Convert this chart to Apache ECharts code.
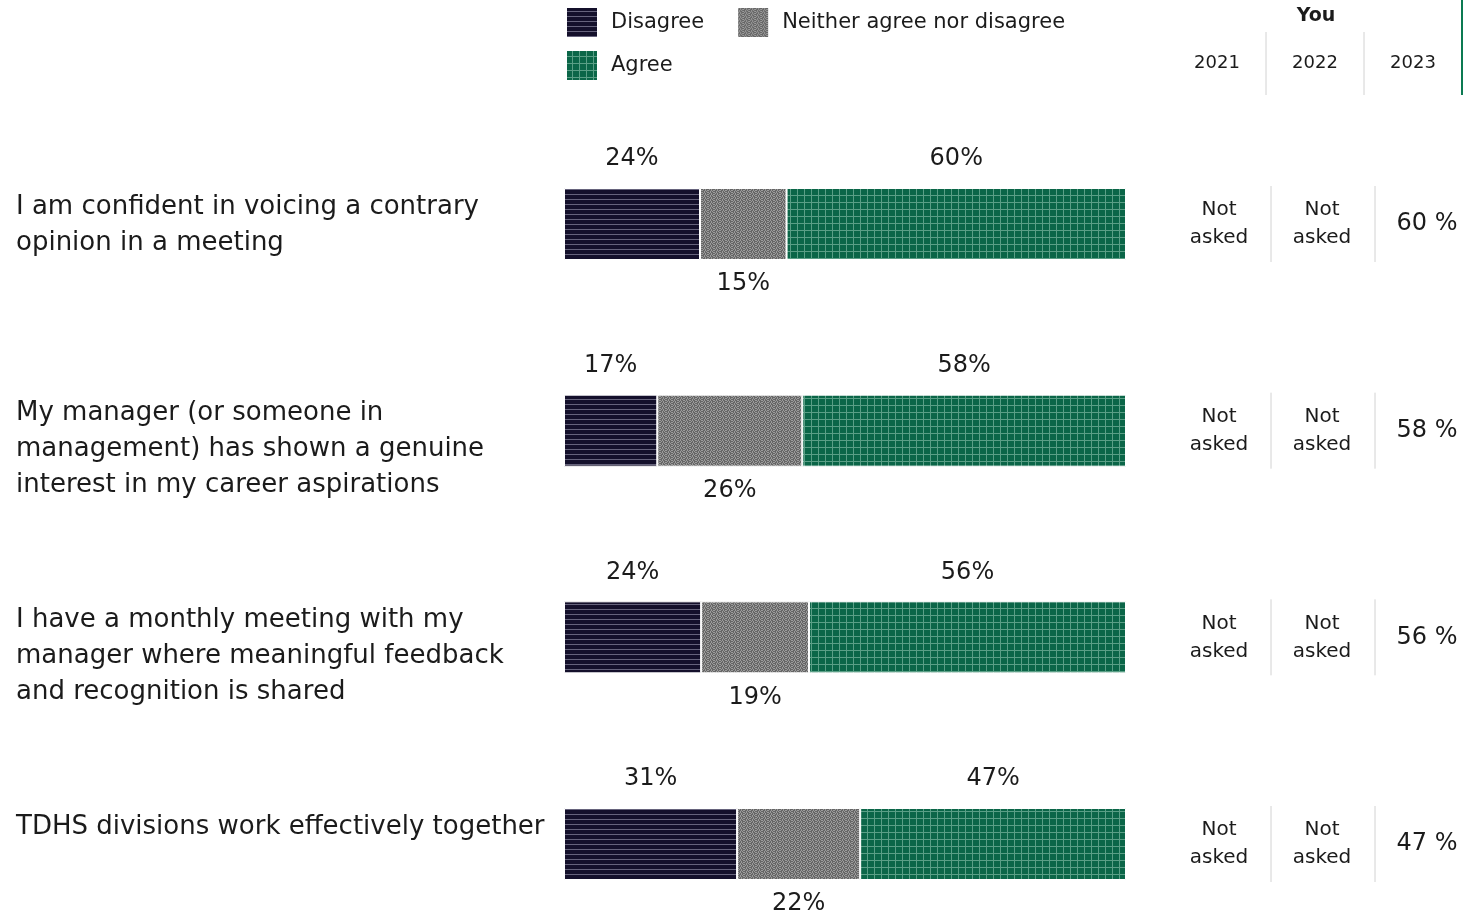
<!DOCTYPE html>
<html><head><meta charset="utf-8">
<script src="https://cdn.jsdelivr.net/npm/echarts@6/dist/echarts.min.js"></script>
<style>html,body{margin:0;padding:0;background:#fff}#c{width:1466px;height:917px}</style>
</head><body><div id="c"></div>
<script>
const categories = [
  'I am confident in voicing a contrary\nopinion in a meeting',
  'My manager (or someone in\nmanagement) has shown a genuine\ninterest in my career aspirations',
  'I have a monthly meeting with my\nmanager where meaningful feedback\nand recognition is shared',
  'TDHS divisions work effectively together'
];
const seriesNames = ['Disagree', 'Neither agree nor disagree', 'Agree'];
const disagree = [24.2, 16.6, 24.4, 30.8];
const neutral = [15.4, 25.8, 19.2, 21.9];
const agree = [60.4, 57.6, 56.4, 47.3];
const years = ['2021', '2022', '2023'];
const headerTitle = 'You';
const result2021 = ['Not\nasked', 'Not\nasked', 'Not\nasked', 'Not\nasked'];
const result2022 = ['Not\nasked', 'Not\nasked', 'Not\nasked', 'Not\nasked'];
const result2023 = [60, 58, 56, 47];

const FONT = '"DejaVu Sans"';
const TXT = '#1b1b1b';

function pattern(kind) {
  const c = document.createElement('canvas');
  const g = c.getContext('2d');
  if (kind === 'disagree') {
    c.width = 8; c.height = 5;
    g.fillStyle = '#14102b'; g.fillRect(0, 0, 8, 5);
    g.fillStyle = '#66637c'; g.fillRect(0, 4, 8, 1);
  } else if (kind === 'neutral') {
    c.width = 6; c.height = 4;
    const rows = ['LDLDDL', 'DLDLDD', 'LDDLDL', 'DDLDLD'];
    rows.forEach((r, y) => { for (let x = 0; x < 6; x++) { g.fillStyle = r[x] === 'L' ? '#9c9c9c' : '#666666'; g.fillRect(x, y, 1, 1); } });
  } else {
    c.width = 7; c.height = 7;
    g.fillStyle = '#0b6648'; g.fillRect(0, 0, 7, 7);
    g.fillStyle = '#5a9f86'; g.fillRect(6, 0, 1, 7); g.fillRect(0, 6, 7, 1);
  }
  return { image: c, repeat: 'repeat' };
}

const colors = [pattern('disagree'), pattern('neutral'), pattern('agree')];
const values = [disagree, neutral, agree];

const chart = echarts.init(document.getElementById('c'), null, { renderer: 'canvas' });

const series = seriesNames.map((name, i) => ({
  name,
  type: 'bar',
  stack: 'total',
  barWidth: 72,
  data: values[i],
  itemStyle: { color: colors[i], borderColor: '#ffffff', borderWidth: 1 },
  label: {
    show: true,
    position: i === 1 ? 'bottom' : 'top',
    distance: i === 1 ? 12 : 17,
    formatter: p => Math.round(p.value) + '%',
    fontFamily: FONT, fontSize: 24, color: TXT
  },
  emphasis: { disabled: true }
}));

const legendText = { fontFamily: FONT, fontSize: 21, color: TXT, padding: [0, 0, 0, 8] };
chart.setOption({
  animation: false,
  backgroundColor: '#ffffff',
  legend: [
    { data: [seriesNames[0], seriesNames[1]], left: 565, top: 6, padding: 0, icon: 'rect', itemWidth: 32, itemHeight: 31, itemGap: 32, selectedMode: false, textStyle: legendText },
    { data: [seriesNames[2]], left: 565, top: 49, padding: 0, icon: 'rect', itemWidth: 32, itemHeight: 31, selectedMode: false, textStyle: legendText }
  ],
  grid: { left: 564, right: 340, top: 224, bottom: 73, containLabel: false },
  xAxis: { type: 'value', min: 0, max: 100, show: false },
  yAxis: { type: 'category', data: categories, inverse: true, boundaryGap: false, show: false },
  series
});

function build() {
  const g = [];
  const sep = '#d2d2d2';
  g.push({ type: 'text', x: 1316, y: 16, style: { text: headerTitle, fontFamily: FONT, fontWeight: 'bold', fontSize: 19, fill: TXT, align: 'center', verticalAlign: 'middle' } });
  const colX = [1217, 1315, 1413];
  years.forEach((y, i) => g.push({ type: 'text', x: colX[i], y: 63, style: { text: y, fontFamily: FONT, fontSize: 18, fill: TXT, align: 'center', verticalAlign: 'middle' } }));
  [1266, 1364].forEach(x => g.push({ type: 'line', shape: { x1: x, y1: 32, x2: x, y2: 95 }, style: { stroke: sep, lineWidth: 1 } }));
  g.push({ type: 'line', shape: { x1: 1462, y1: 0, x2: 1462, y2: 95 }, style: { stroke: '#0c7a52', lineWidth: 2 } });

  categories.forEach((cat, i) => {
    const cy = chart.convertToPixel({ yAxisIndex: 0 }, i);
    g.push({ type: 'text', x: 16, y: cy - 35, style: { text: cat, fontFamily: FONT, fontSize: 26, lineHeight: 36, fill: TXT, align: 'left', verticalAlign: 'top' } });
    g.push({ type: 'text', x: 1219, y: cy, style: { text: result2021[i], fontFamily: FONT, fontSize: 20, lineHeight: 28, fill: TXT, align: 'center', verticalAlign: 'middle' } });
    g.push({ type: 'text', x: 1322, y: cy, style: { text: result2022[i], fontFamily: FONT, fontSize: 20, lineHeight: 28, fill: TXT, align: 'center', verticalAlign: 'middle' } });
    g.push({ type: 'text', x: 1427, y: cy, style: { text: result2023[i] + ' %', fontFamily: FONT, fontSize: 24, fill: TXT, align: 'center', verticalAlign: 'middle' } });
    [1271, 1375].forEach(x => g.push({ type: 'line', shape: { x1: x, y1: cy - 38, x2: x, y2: cy + 38 }, style: { stroke: sep, lineWidth: 1 } }));
  });
  chart.setOption({ graphic: g });
}
build();
</script>
</body></html>
